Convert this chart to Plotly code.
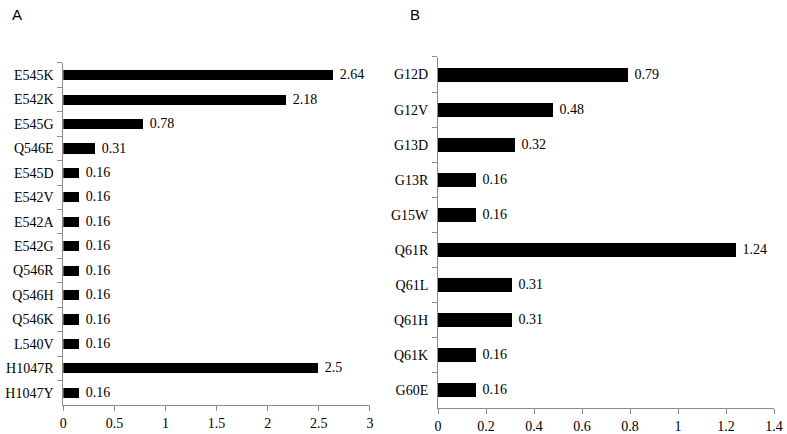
import plotly.graph_objects as go

# panel A data
pik3ca_mut = ["E545K", "E542K", "E545G", "Q546E", "E545D", "E542V", "E542A",
              "E542G", "Q546R", "Q546H", "Q546K", "L540V", "H1047R", "H1047Y"]
pik3ca_val = [2.64, 2.18, 0.78, 0.31, 0.16, 0.16, 0.16,
              0.16, 0.16, 0.16, 0.16, 0.16, 2.5, 0.16]
pik3ca_txt = ["2.64", "2.18", "0.78", "0.31", "0.16", "0.16", "0.16",
              "0.16", "0.16", "0.16", "0.16", "0.16", "2.5", "0.16"]

# panel B data
kras_mut = ["G12D", "G12V", "G13D", "G13R", "G15W", "Q61R", "Q61L", "Q61H", "Q61K", "G60E"]
kras_val = [0.79, 0.48, 0.32, 0.16, 0.16, 1.24, 0.31, 0.31, 0.16, 0.16]
kras_txt = ["0.79", "0.48", "0.32", "0.16", "0.16", "1.24", "0.31", "0.31", "0.16", "0.16"]

serif = "Liberation Serif, Times New Roman, serif"
sans = "Liberation Sans, Arial, sans-serif"
axis_col = "#8c8c8c"

fig = go.Figure()

fig.add_trace(go.Bar(
    x=pik3ca_val, y=pik3ca_mut, orientation="h",
    text=pik3ca_txt, texttemplate="\u00a0%{text}",
    textposition="outside", cliponaxis=False, constraintext="none",
    textfont=dict(family=serif, size=14, color="black"),
    marker=dict(color="black", line=dict(width=0)),
    width=0.42, xaxis="x", yaxis="y", showlegend=False,
))

fig.add_trace(go.Bar(
    x=kras_val, y=kras_mut, orientation="h",
    text=kras_txt, texttemplate="\u00a0%{text}",
    textposition="outside", cliponaxis=False, constraintext="none",
    textfont=dict(family=serif, size=14, color="black"),
    marker=dict(color="black", line=dict(width=0)),
    width=0.4, xaxis="x2", yaxis="y2", showlegend=False,
))

xcommon = dict(showgrid=False, zeroline=False, showline=True, linecolor=axis_col,
               linewidth=1, ticks="outside", ticklen=5, tickcolor=axis_col,
               automargin=False, tickfont=dict(family=serif, size=14, color="black"))
ycommon = dict(showgrid=False, showline=True, linecolor=axis_col, linewidth=1,
               ticks="outside", ticklen=5, tickcolor=axis_col, tickson="boundaries",
               autorange="reversed", ticklabelstandoff=6, automargin=False,
               tickfont=dict(family=serif, size=14, color="black"))

fig.update_layout(
    width=787,
    height=434,
    margin=dict(l=0, r=0, t=0, b=0, autoexpand=False),
    plot_bgcolor="white",
    paper_bgcolor="white",
    bargap=0,
    xaxis=dict(domain=[0.0805, 0.470], range=[0, 3], dtick=0.5, anchor="y", **xcommon),
    yaxis=dict(domain=[0.067, 0.855], anchor="x", **ycommon),
    xaxis2=dict(domain=[0.5566, 0.9835], range=[0, 1.4], dtick=0.2, anchor="y2", **xcommon),
    yaxis2=dict(domain=[0.06, 0.8687], anchor="x2", **ycommon),
    annotations=[
        dict(text="A", x=0.013, y=0.99, xref="paper", yref="paper", showarrow=False,
             xanchor="left", yanchor="top", font=dict(family=sans, size=15, color="black")),
        dict(text="B", x=0.5185, y=0.99, xref="paper", yref="paper", showarrow=False,
             xanchor="left", yanchor="top", font=dict(family=sans, size=15, color="black")),
    ],
)

# page body has a default margin; drop it so the figure fills the window
fig.write_html("out.html", config={"displayModeBar": False},
               post_script="document.body.style.margin='0px';")
